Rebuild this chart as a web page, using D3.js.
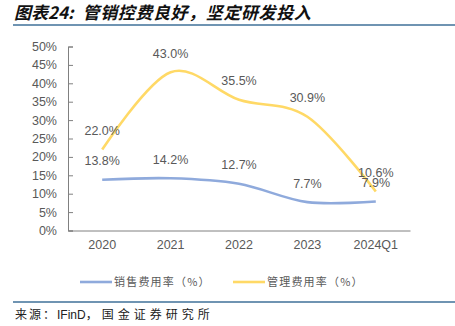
<!DOCTYPE html>
<html><head><meta charset="utf-8">
<script src="https://cdn.jsdelivr.net/npm/d3@7"></script>
<style>
html,body{margin:0;padding:0;background:#fff;}
svg{display:block;}
</style></head>
<body>
<svg id="c" width="455" height="326"></svg>
<script>
const categories = ["2020","2021","2022","2023","2024Q1"];
const salesRate = [13.8, 14.2, 12.7, 7.7, 7.9];
const adminRate = [22.0, 43.0, 35.5, 30.9, 10.6];
const yTicks = [0,5,10,15,20,25,30,35,40,45,50];
const seriesNames = ["销售费用率（%）","管理费用率（%）"];
const titleParts = ["图表24:", "管销控费良好，坚定研发投入"];
const sourceText = ["来源：","IFinD","，国金证券研究所"];

const svg = d3.select("#c");
const font = "'Liberation Sans', Arial, Helvetica, sans-serif";
const cjk = "'Noto Sans CJK SC', sans-serif";
const textCol = "#595959";
const ruleCol = "#3f7099";
const colors = ["#8FAADC", "#FFD966"];

// title
const title = svg.append("text").attr("x", 14).attr("y", 19)
  .attr("font-family", cjk).attr("font-size", 17).attr("font-weight", "bold")
  .attr("font-style", "italic").attr("fill", "#111");
title.append("tspan").text(titleParts[0]);
title.append("tspan").attr("dx", 9).attr("letter-spacing", 0.6).text(titleParts[1]);
svg.append("line").attr("x1", 13).attr("x2", 455).attr("y1", 25).attr("y2", 25)
  .attr("stroke", ruleCol).attr("stroke-width", 1.6);

const x = d3.scaleBand().domain(categories).range([68, 410]);
const y = d3.scaleLinear().domain([0, 50]).range([230.5, 46.5]);

// y axis
const yAxis = svg.append("g").attr("transform", "translate(68,0)")
  .call(d3.axisLeft(y).tickValues(yTicks).tickFormat(d => d + "%").tickSize(-5).tickPadding(11));
yAxis.select(".domain").attr("stroke", "#808080");
yAxis.selectAll(".tick line").attr("stroke", "#808080");
yAxis.selectAll("text").attr("fill", textCol).attr("font-family", font).attr("font-size", 12.5);

// x axis
const xAxis = svg.append("g").attr("transform", "translate(0,230.5)")
  .call(d3.axisBottom(x).tickSize(0).tickPadding(10));
xAxis.select(".domain").attr("stroke", "#808080");
xAxis.selectAll("text").attr("fill", textCol).attr("font-family", font).attr("font-size", 12.5);

const line = d3.line()
  .x((d, i) => x(categories[i]) + x.bandwidth() / 2)
  .y(d => y(d))
  .curve(d3.curveCardinal);

[salesRate, adminRate].forEach((s, k) => {
  svg.append("path").datum(s).attr("d", line)
    .attr("fill", "none").attr("stroke", colors[k]).attr("stroke-width", 2.6)
    .attr("stroke-linecap", "butt");
});

[salesRate, adminRate].forEach((s, k) => {
  svg.append("g").selectAll("text").data(s).join("text")
    .attr("x", (d, i) => x(categories[i]) + x.bandwidth() / 2)
    .attr("y", d => y(d) - 19)
    .attr("dy", "0.35em")
    .attr("text-anchor", "middle")
    .attr("font-family", font).attr("font-size", 12.5).attr("fill", textCol)
    .text(d => d.toFixed(1) + "%");
});

// legend
const legendX = [80, 233];
seriesNames.forEach((n, k) => {
  svg.append("line").attr("x1", legendX[k]).attr("x2", legendX[k] + 32)
    .attr("y1", 282).attr("y2", 282).attr("stroke", colors[k]).attr("stroke-width", 2.6);
  svg.append("text").attr("x", legendX[k] + 34).attr("y", 282).attr("dy", "0.35em")
    .attr("font-family", cjk).attr("font-size", 11).attr("letter-spacing", 1.2)
    .attr("fill", textCol).text(n);
});

// source
svg.append("line").attr("x1", 13).attr("x2", 455).attr("y1", 302).attr("y2", 302)
  .attr("stroke", ruleCol).attr("stroke-width", 1.4);
const src = svg.append("text").attr("x", 15).attr("y", 319)
  .attr("font-size", 12).attr("fill", "#222");
src.append("tspan").attr("font-family", cjk).attr("letter-spacing", 2).text(sourceText[0]);
src.append("tspan").attr("font-family", font).text(sourceText[1]);
src.append("tspan").attr("font-family", cjk).attr("letter-spacing", 4).text(sourceText[2]);
</script>
</body></html>
